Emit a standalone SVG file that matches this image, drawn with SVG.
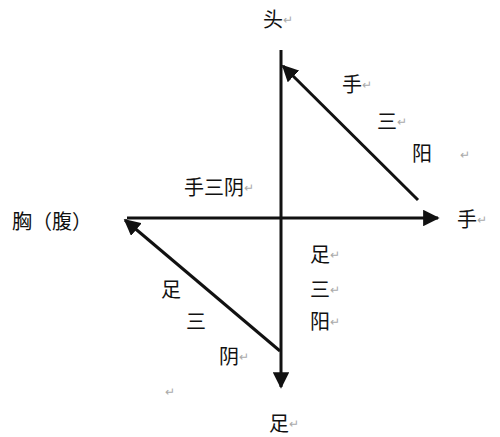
<svg xmlns="http://www.w3.org/2000/svg" width="500" height="437" viewBox="0 0 500 437">
<style>
text{font-family:"Noto Sans CJK SC","Noto Sans CJK JP",sans-serif;font-size:20px;fill:#111;dominant-baseline:central}
.r{font-size:12px;fill:#aaa}
.ln{stroke:#111;stroke-width:3;fill:none}
</style>
<defs>
<marker id="ah" viewBox="0 0 10 10" refX="9" refY="5" markerWidth="5.5" markerHeight="5.5" orient="auto" markerUnits="strokeWidth">
<path d="M0,0 L10,5 L0,10 z" fill="#111"/>
</marker>
</defs>
<rect width="500" height="437" fill="#fff"/>
<g id="connectors">
<line class="ln" x1="281" y1="50" x2="281" y2="387" marker-end="url(#ah)"/>
<line class="ln" x1="127" y1="218" x2="438" y2="218" marker-end="url(#ah)"/>
<line class="ln" x1="418" y1="200" x2="283" y2="66" marker-end="url(#ah)"/>
<line class="ln" x1="280" y1="351" x2="125" y2="220" marker-end="url(#ah)"/>
</g>
<g id="head"><text x="263" y="18">头<tspan class="r">↵</tspan></text></g>
<g id="foot"><text x="269" y="422">足<tspan class="r">↵</tspan></text></g>
<g id="chest"><text x="12" y="220">胸（腹）</text></g>
<g id="hand"><text x="457" y="218">手<tspan class="r">↵</tspan></text></g>
<g id="hand-three-yang">
<text x="342" y="83">手<tspan class="r">↵</tspan></text>
<text x="377" y="120">三<tspan class="r">↵</tspan></text>
<text x="412" y="152">阳</text>
<text class="r" x="460" y="153">↵</text>
</g>
<g id="hand-three-yin"><text x="184" y="186">手三阴<tspan class="r">↵</tspan></text></g>
<g id="foot-three-yang">
<text x="310" y="253">足<tspan class="r">↵</tspan></text>
<text x="310" y="288">三<tspan class="r">↵</tspan></text>
<text x="310" y="320">阳<tspan class="r">↵</tspan></text>
</g>
<g id="foot-three-yin">
<text x="161" y="288">足</text>
<text x="186" y="320">三</text>
<text x="219" y="355">阴<tspan class="r">↵</tspan></text>
<text class="r" x="165" y="390">↵</text>
</g>
</svg>
